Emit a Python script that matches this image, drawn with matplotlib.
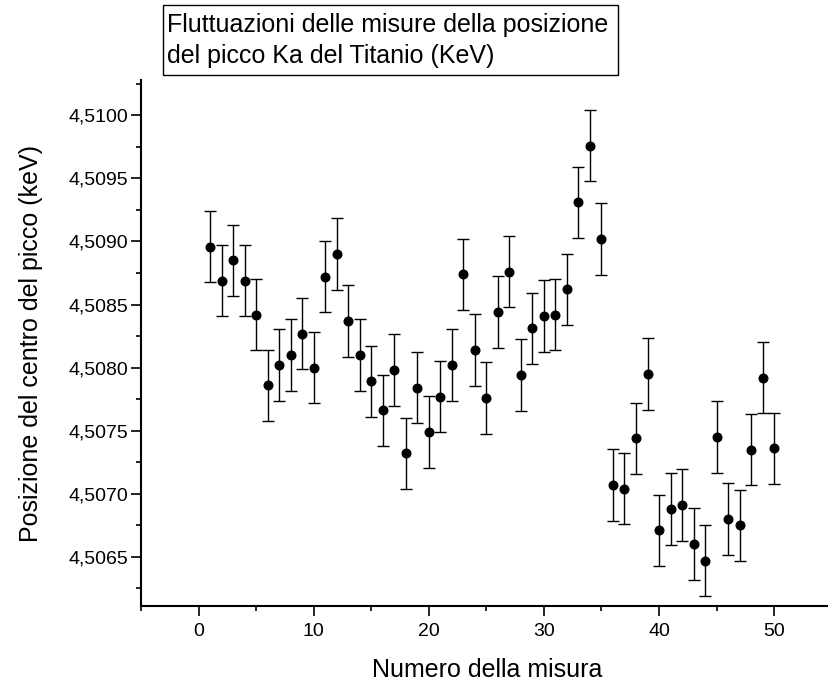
import matplotlib
matplotlib.use("Agg")
import matplotlib.pyplot as plt
from matplotlib.patches import Rectangle
from matplotlib.ticker import MultipleLocator, FuncFormatter

plt.rcParams['font.family'] = ['Liberation Sans', 'DejaVu Sans']

# numero della misura
misura = list(range(1, 51))
# posizione del centro del picco (keV)
picco = [4.50896, 4.50869, 4.50885, 4.50869, 4.50842, 4.50786, 4.50802, 4.50810, 4.50827, 4.50800,
         4.50872, 4.50890, 4.50837, 4.50810, 4.50789, 4.50766, 4.50798, 4.50732, 4.50784, 4.50749,
         4.50777, 4.50802, 4.50874, 4.50814, 4.50776, 4.50844, 4.50876, 4.50794, 4.50831, 4.50841,
         4.50842, 4.50862, 4.50931, 4.50976, 4.50902, 4.50707, 4.50704, 4.50744, 4.50795, 4.50671,
         4.50688, 4.50691, 4.50660, 4.50647, 4.50745, 4.50680, 4.50675, 4.50735, 4.50792, 4.50736]
errore = [0.000283] * 50

titolo = ["Fluttuazioni delle misure della posizione", "del picco Ka del Titanio (KeV)"]

W, H = 829, 686
fig = plt.figure(figsize=(W / 100, H / 100), dpi=100)
ax = fig.add_axes([141 / W, 1 - 606 / H, (831.7 - 141) / W, (606 - 80) / H])

ax.errorbar(misura, picco, yerr=errore, fmt='o', color='black', ms=6.2,
            elinewidth=1, capsize=4, capthick=1, ecolor='black')

ax.set_xlim(-5, 55)
ax.set_ylim(4.50611, 4.51028)

ax.xaxis.set_major_locator(MultipleLocator(10))
ax.xaxis.set_minor_locator(MultipleLocator(5))
ax.yaxis.set_major_locator(MultipleLocator(0.0005))
ax.yaxis.set_minor_locator(MultipleLocator(0.00025))
ax.yaxis.set_major_formatter(FuncFormatter(lambda v, p: ("%.4f" % v).replace('.', ',')))

for s in ['top', 'right']:
    ax.spines[s].set_visible(False)
for s in ['left', 'bottom']:
    ax.spines[s].set_linewidth(1.5)
ax.tick_params(which='major', direction='out', length=7.5, width=1.2, labelsize=14)
ax.tick_params(which='minor', direction='out', length=3.8, width=1.2)
ax.tick_params(axis='x', which='major', pad=5)
ax.tick_params(axis='y', which='major', pad=2)

# etichette degli assi
fig.text(487 / W, 1 - 677 / H, "Numero della misura", fontsize=18, ha='center', va='baseline')
fig.text(31 / W, 1 - 343 / H, "Posizione del centro del picco (keV)", fontsize=18,
         ha='center', va='center', rotation=90)

# riquadro del titolo
fig.patches.append(Rectangle((163 / W, 1 - 75 / H), (618 - 163) / W, 70 / H,
                             transform=fig.transFigure, fill=False, edgecolor='black', lw=1))
for i, riga in enumerate(titolo):
    fig.text(167 / W, 1 - (32 + 31.5 * i) / H, riga, fontsize=18, ha='left', va='baseline')

fig.savefig("out.png", dpi=100)
